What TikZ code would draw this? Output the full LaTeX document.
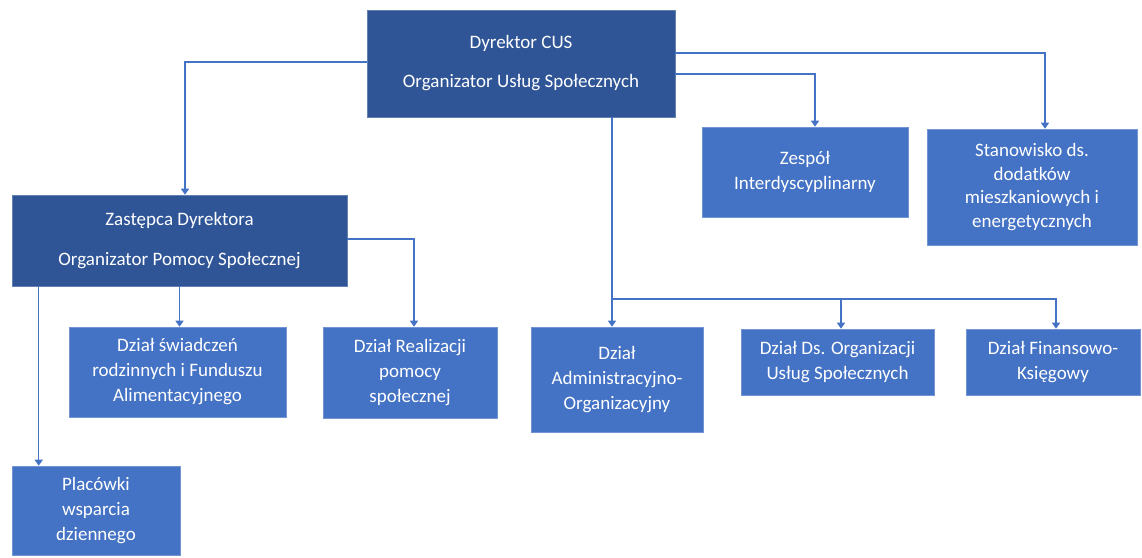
\documentclass[tikz,border=0pt]{standalone}
\usepackage{fontspec}
\setmainfont{Carlito}
\usetikzlibrary{arrows.meta}
\definecolor{darkbox}{HTML}{2F5597}
\definecolor{lightbox}{HTML}{4472C4}
\definecolor{linec}{HTML}{4472C4}
\tikzset{
  boxbase/.style={rectangle, inner sep=2pt, align=center, text=white, font=\fontsize{19}{25}\selectfont},
  darknode/.style={boxbase, fill=darkbox, draw=darkbox!75!white, line width=0.6pt},
  lightnode/.style={boxbase, fill=lightbox, draw=lightbox!75!white, line width=0.6pt},
  conn/.style={draw=linec, line width=1.4pt},
  arr/.style={conn, -{Triangle[width=8pt,length=6pt]}}
}
\begin{document}
\begin{tikzpicture}[x=1pt,y=-1pt]
\useasboundingbox (0,0) rectangle (1142,557);
\node[darknode, minimum width=308pt, minimum height=107pt, font=\fontsize{19}{39}\selectfont] (dir) at (521,63.5) {Dyrektor CUS\\Organizator Usług Społecznych};
\node[darknode, minimum width=335pt, minimum height=91pt, font=\fontsize{19}{40}\selectfont] (zast) at (179.5,240.5) {Zastępca Dyrektora\\Organizator Pomocy Społecznej};
\node[lightnode, minimum width=217pt, minimum height=90pt] (swi) at (177.5,372) {Dział świadczeń\\rodzinnych i Funduszu\\Alimentacyjnego};
\node[lightnode, minimum width=174pt, minimum height=91pt] (real) at (410,372.5) {Dział Realizacji\\pomocy\\społecznej};
\node[lightnode, minimum width=172pt, minimum height=105pt] (adm) at (617,379.5) {Dział\\Administracyjno-\\Organizacyjny};
\node[lightnode, minimum width=193pt, minimum height=66pt] (dso) at (837.5,362) {Dział Ds. Organizacji\\Usług Społecznych};
\node[lightnode, minimum width=174pt, minimum height=66pt] (fin) at (1053,362) {Dział Finansowo-\\Księgowy};
\node[lightnode, minimum width=206pt, minimum height=90pt] (zes) at (805,172) {Zespół\\Interdyscyplinarny};
\node[lightnode, minimum width=210pt, minimum height=116pt, font=\fontsize{19}{23.5}\selectfont] (sta) at (1032,187) {Stanowisko ds.\\dodatków\\mieszkaniowych i\\energetycznych};
\node[lightnode, minimum width=168pt, minimum height=89pt] (pla) at (96,510.5) {Placówki\\wsparcia\\dziennego};

% from director
\draw[arr] ([yshift=1.5pt]dir.west) -| ([xshift=5.5pt]zast.north);
\draw[arr] ([yshift=-10.5pt]dir.east) -| ([xshift=10pt]zes.north);
\draw[arr] ([yshift=10.5pt]dir.east) -| ([xshift=13pt]sta.north);
\coordinate (bus) at (612,299);
\draw[conn] (dir.south -| bus) -- (bus);
\draw[arr] (bus) -- (bus |- adm.north);
\draw[arr] (bus) -| ([xshift=3.5pt]dso.north);
\draw[arr] (bus) -| ([xshift=3pt]fin.north);
% from deputy
\draw[arr] ([yshift=1.5pt]zast.east) -| ([xshift=4pt]real.north);
\draw[arr] (zast.south) -- (zast.south |- swi.north);
\draw[arr] ([xshift=27pt]zast.south west) -- ([xshift=27pt]zast.south west |- pla.north);
\end{tikzpicture}
\end{document}
